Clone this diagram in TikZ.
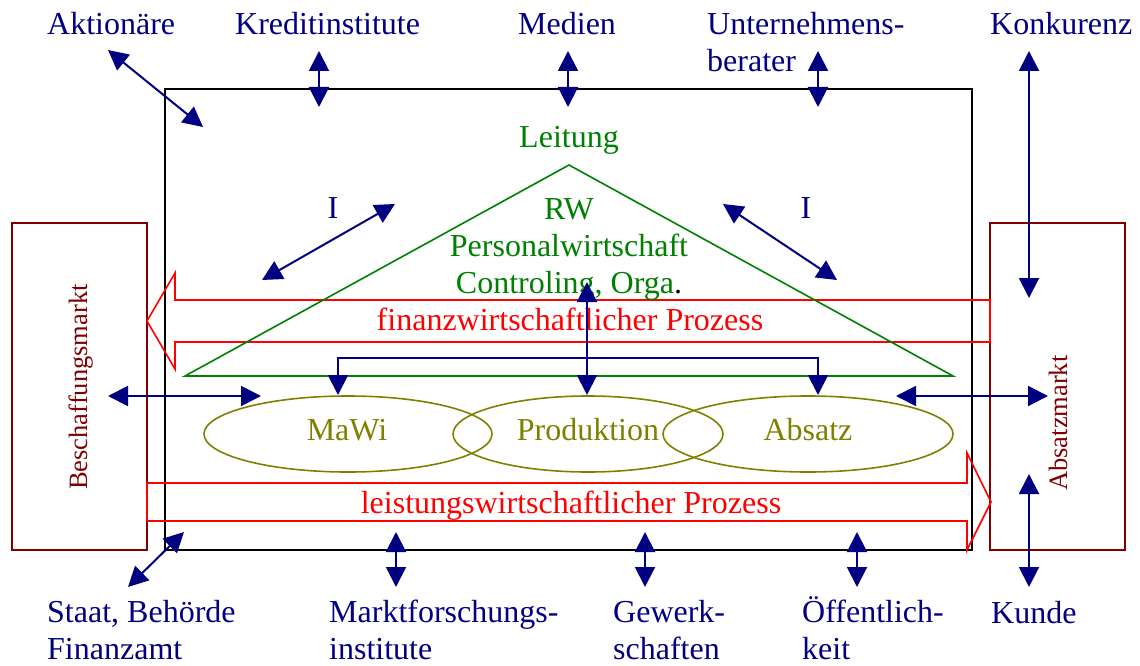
\documentclass[tikz,border=0pt]{standalone}
\usepackage{fontspec}
\setmainfont{Liberation Serif}
\usetikzlibrary{arrows.meta,shapes.geometric}
\definecolor{navy}{RGB}{0,0,128}
\definecolor{dgreen}{RGB}{0,128,0}
\definecolor{dred}{RGB}{128,0,0}
\definecolor{olivec}{RGB}{128,128,0}
\definecolor{bred}{RGB}{255,0,0}
\begin{document}
\begin{tikzpicture}[x=1pt,y=-1pt,
  txt/.style={font=\fontsize{32}{37}\selectfont, inner sep=0pt},
  mtxt/.style={font=\fontsize{26.5}{30}\selectfont, inner sep=0pt, text=dred, rotate=90, anchor=base west},
  lbl/.style={txt, text=navy, align=left, anchor=base west},
  tip/.tip={Triangle[length=20pt,width=20pt]},
  link/.style={draw=navy, line width=2pt, tip-tip},
  proc/.style={draw=bred, line width=1.6pt, line join=miter},
  market/.style={draw=dred, line width=1.6pt},
  unit/.style={draw=olivec, line width=1.6pt, ellipse, minimum width=288pt, minimum height=76pt, inner sep=0pt}]
\useasboundingbox (0,0) rectangle (1140,666);

% company frame
\draw[black, line width=2pt] (165,89) rectangle (972,550);

% markets
\draw[market] (12,223) rectangle (147,550);
\draw[market] (990,223) rectangle (1125,550);
\node[mtxt] (besch) at (87,490) {Beschaffungsmarkt};
\node[mtxt] (absm) at (1067,491) {Absatzmarkt};

% process arrows
\draw[proc] (990,300) -- (175,300) -- (175,273) -- (147,321) -- (175,369) -- (175,342) -- (990,342) -- cycle;
\draw[proc] (147,483) -- (967,483) -- (967,453) -- (991,502) -- (967,550) -- (967,521) -- (147,521) -- cycle;
\node[txt, text=bred, anchor=base] (fin) at (570,330) {finanzwirtschaftlicher Prozess};
\node[txt, text=bred, anchor=base] (lei) at (571,513) {leistungswirtschaftlicher Prozess};

% management triangle
\coordinate (tA) at (569,165);
\coordinate (tL) at (185,376);
\coordinate (tR) at (953,376);
\draw[dgreen, line width=1.6pt] (tA) -- (tL) -- (tR) -- cycle;
\node[txt, text=dgreen, anchor=base] (leit) at (569,147) {Leitung};
\node[txt, text=dgreen, anchor=base, align=center] (rw) at (569,293) {RW\\Personalwirtschaft\\Controling, Orga{\color{black}.}};

% functional units
\node[unit] (mawi) at (348,434) {};
\node[unit, minimum width=270pt] (prod) at (588,434) {};
\node[unit, minimum width=290pt] (abs) at (808,434) {};
\node[txt, text=olivec, anchor=base] (tmawi) at (347,440) {MaWi};
\node[txt, text=olivec, anchor=base] (tprod) at (588,440) {Produktion};
\node[txt, text=olivec, anchor=base] (tabs) at (808,440) {Absatz};

% I labels
\node[txt, text=navy, anchor=base] (il) at (333,218) {I};
\node[txt, text=navy, anchor=base] (ir) at (806,218) {I};

% stakeholder labels
\node[lbl] (akt) at (47,35) {Aktionäre};
\node[lbl] (kre) at (235,35) {Kreditinstitute};
\node[lbl] (med) at (518,35) {Medien};
\node[lbl] (unt) at (707,72) {Unternehmens-\\berater};
\node[lbl] (kon) at (990,35) {Konkurenz};
\node[lbl] (sta) at (47,659) {Staat, Behörde\\Finanzamt};
\node[lbl] (maf) at (329,659) {Marktforschungs-\\institute};
\node[lbl] (gew) at (613,659) {Gewerk-\\schaften};
\node[lbl] (oef) at (802,659) {Öffentlich-\\keit};
\node[lbl] (kun) at (991,623) {Kunde};

% arrow end points
\coordinate (a1) at (108,50);   \coordinate (a2) at (203,127);
\coordinate (k1) at (319,51);   \coordinate (k2) at (319,107);
\coordinate (m1) at (568,51);   \coordinate (m2) at (568,107);
\coordinate (u1) at (818,51);   \coordinate (u2) at (818,107);
\coordinate (ko1) at (1029,51); \coordinate (ko2) at (1029,298);
\coordinate (s1) at (128,587);  \coordinate (s2) at (184,532);
\coordinate (mf1) at (396,532); \coordinate (mf2) at (396,587);
\coordinate (g1) at (645,532);  \coordinate (g2) at (645,587);
\coordinate (o1) at (857,532);  \coordinate (o2) at (857,587);
\coordinate (ku1) at (1029,474); \coordinate (ku2) at (1029,587);
\coordinate (il1) at (262,280); \coordinate (il2) at (395,204);
\coordinate (ir1) at (723,204); \coordinate (ir2) at (837,280);
\coordinate (b1) at (108,396);  \coordinate (b2) at (261,396);
\coordinate (ab1) at (896,396); \coordinate (ab2) at (1048,396);
\coordinate (v1) at (587,282);  \coordinate (v2) at (587,395);
\coordinate (br1) at (338,395); \coordinate (br2) at (818,395);
\coordinate (brt) at (338,358);

\draw[link] (a1) -- (a2);
\draw[link] (k1) -- (k2);
\draw[link] (m1) -- (m2);
\draw[link] (u1) -- (u2);
\draw[link] (ko1) -- (ko2);
\draw[link] (s1) -- (s2);
\draw[link] (mf1) -- (mf2);
\draw[link] (g1) -- (g2);
\draw[link] (o1) -- (o2);
\draw[link] (ku1) -- (ku2);
\draw[link] (il1) -- (il2);
\draw[link] (ir1) -- (ir2);
\draw[link] (b1) -- (b2);
\draw[link] (ab1) -- (ab2);
\draw[link] (v1) -- (v2);
\draw[link] (br1) -- (brt) -| (br2);
\end{tikzpicture}
\end{document}
